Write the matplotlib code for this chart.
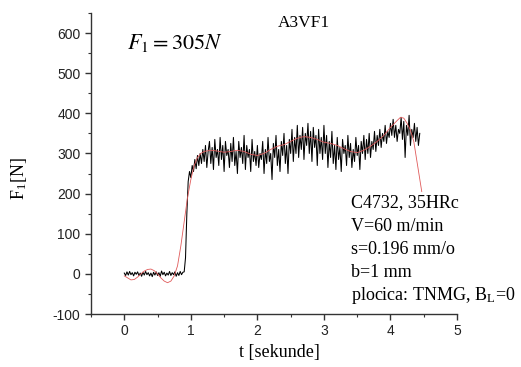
import numpy as np
import matplotlib
matplotlib.use("Agg")
import matplotlib.pyplot as plt
from matplotlib.ticker import MultipleLocator

# ---- data ----
sig_t0 = 0.0
sig_dt = 0.02
signal = [
    2, -4, 5, -3, 6, -2, 3, -5, 4, -1,
    5, -4, 2, -6, 4, -3, 6, -2, 3, -5,
    2, -7, 4, -3, 5, -4, 3, -6, 7, -2,
    4, -5, 2, -3, 6, -4, 3, -2, 5, -6,
    3, -4, 6, -2, 4,
    5, 40, 150, 230, 255,
    240, 270, 255, 285, 262, 295, 270, 300, 275, 310,
    280, 320, 265, 305, 330, 275, 315, 260, 335, 290,
    310, 270, 340, 285, 320, 255, 330, 295, 310, 265,
    325, 280, 340, 270, 305, 250, 330, 290, 315, 275,
    345, 260, 320, 290, 310, 255, 335, 280, 305, 270,
    320, 265, 300, 285, 330, 250, 310, 275, 340, 280,
    300, 235, 325, 290, 345, 270, 310, 255, 330, 295,
    350, 275, 320, 250, 335, 300, 360, 280, 340, 300,
    370, 290, 345, 310, 365, 285, 350, 320, 375, 300,
    355, 280, 365, 315, 345, 270, 360, 300, 340, 285,
    370, 300, 345, 265, 330, 290, 355, 275, 320, 260,
    340, 285, 315, 255, 335, 300, 320, 270, 345, 290,
    325, 265, 310, 280, 340, 295, 320, 260, 330, 300,
    345, 285, 335, 300, 350, 290, 330, 310, 355, 305,
    345, 320, 360, 315, 350, 330, 370, 325, 355, 340,
    375, 345, 385, 340, 370, 330, 360, 350, 390, 335,
    380, 290, 370, 345, 395, 320, 360, 340, 375, 330,
    365, 320, 350,
]

fit_t = [0.00, 0.05, 0.10, 0.15, 0.20, 0.25, 0.30, 0.35, 0.40, 0.45,
         0.50, 0.55, 0.60, 0.65, 0.70, 0.75, 0.80, 0.85, 0.90, 0.95,
         1.00, 1.05, 1.10, 1.15, 1.20, 1.30, 1.40, 1.50, 1.60, 1.70,
         1.80, 1.90, 2.00, 2.10, 2.20, 2.30, 2.40, 2.50, 2.60, 2.70,
         2.80, 2.90, 3.00, 3.10, 3.20, 3.30, 3.40, 3.50, 3.60, 3.70,
         3.80, 3.90, 4.00, 4.10, 4.15, 4.20, 4.25, 4.30, 4.35, 4.47]
fit_v = [-5, -10, -15, -14, -8, 0, 7, 11, 12, 8,
         0, -10, -18, -22, -18, -5, 20, 70, 130, 190,
         235, 270, 290, 300, 305, 308, 306, 303, 305, 308,
         305, 298, 295, 300, 310, 318, 322, 330, 338, 342,
         340, 335, 328, 325, 320, 312, 305, 302, 308, 318,
         330, 345, 365, 382, 390, 388, 375, 358, 330, 205]

x_ticks = [0, 1, 2, 3, 4, 5]
y_ticks = [-100, 0, 100, 200, 300, 400, 500, 600]

title_text = "A3VF1"
force_text = r"$F_1 = 305N$"
x_label = "t [sekunde]"
y_label = r"F$_\mathregular{1}$[N]"
info_lines = ["C4732, 35HRc", "V=60 m/min", "s=0.196 mm/o", "b=1 mm",
              r"plocica: TNMG, B$_\mathregular{L}$=0"]

# ---- figure ----
plt.rcParams["mathtext.fontset"] = "stix"
plt.rcParams["axes.unicode_minus"] = False
fig = plt.figure(figsize=(5.21, 3.67), dpi=100)
ax = fig.add_axes([0.1747, 0.1444, 0.7025, 0.8202])

t = sig_t0 + sig_dt * np.arange(len(signal))
ax.plot(t, signal, color="black", lw=0.75)
ax.plot(fit_t, fit_v, color="#e05a5a", lw=0.6)

ax.set_xlim(-0.5, 5)
ax.set_ylim(-100, 650)
ax.set_xticks(x_ticks)
ax.set_yticks(y_ticks)
ax.xaxis.set_minor_locator(MultipleLocator(0.5))
ax.yaxis.set_minor_locator(MultipleLocator(50))
for s in ["top", "right"]:
    ax.spines[s].set_visible(False)
for s in ["left", "bottom"]:
    ax.spines[s].set_linewidth(1.0)
    ax.spines[s].set_color("#333333")
ax.tick_params(which="major", direction="out", length=4, width=1.0,
               labelsize=10, colors="#333333", labelcolor="#222222")
ax.tick_params(which="minor", direction="out", length=2.5, width=0.8,
               colors="#333333")
for lab in ax.get_xticklabels() + ax.get_yticklabels():
    lab.set_fontfamily("Liberation Sans")

serif = "Liberation Serif"
fig.text(279 / 521, 1 - 352 / 367, x_label, fontfamily=serif, fontsize=13,
         ha="center", va="center")
fig.text(19 / 521, 1 - 178 / 367, y_label, fontfamily=serif, fontsize=13,
         ha="center", va="center", rotation=90)

fig.text(304 / 521, 1 - 23 / 367, title_text, fontfamily=serif, fontsize=12.5,
         ha="center", va="center")
fig.text(127 / 521, 1 - 43 / 367, force_text, fontsize=16, ha="left", va="center")

y0 = 203
for i, line in enumerate(info_lines):
    fig.text(351 / 521, 1 - (y0 + i * 23.1) / 367, line, fontfamily=serif,
             fontsize=13, ha="left", va="center")

fig.savefig("out.png", dpi=100)
